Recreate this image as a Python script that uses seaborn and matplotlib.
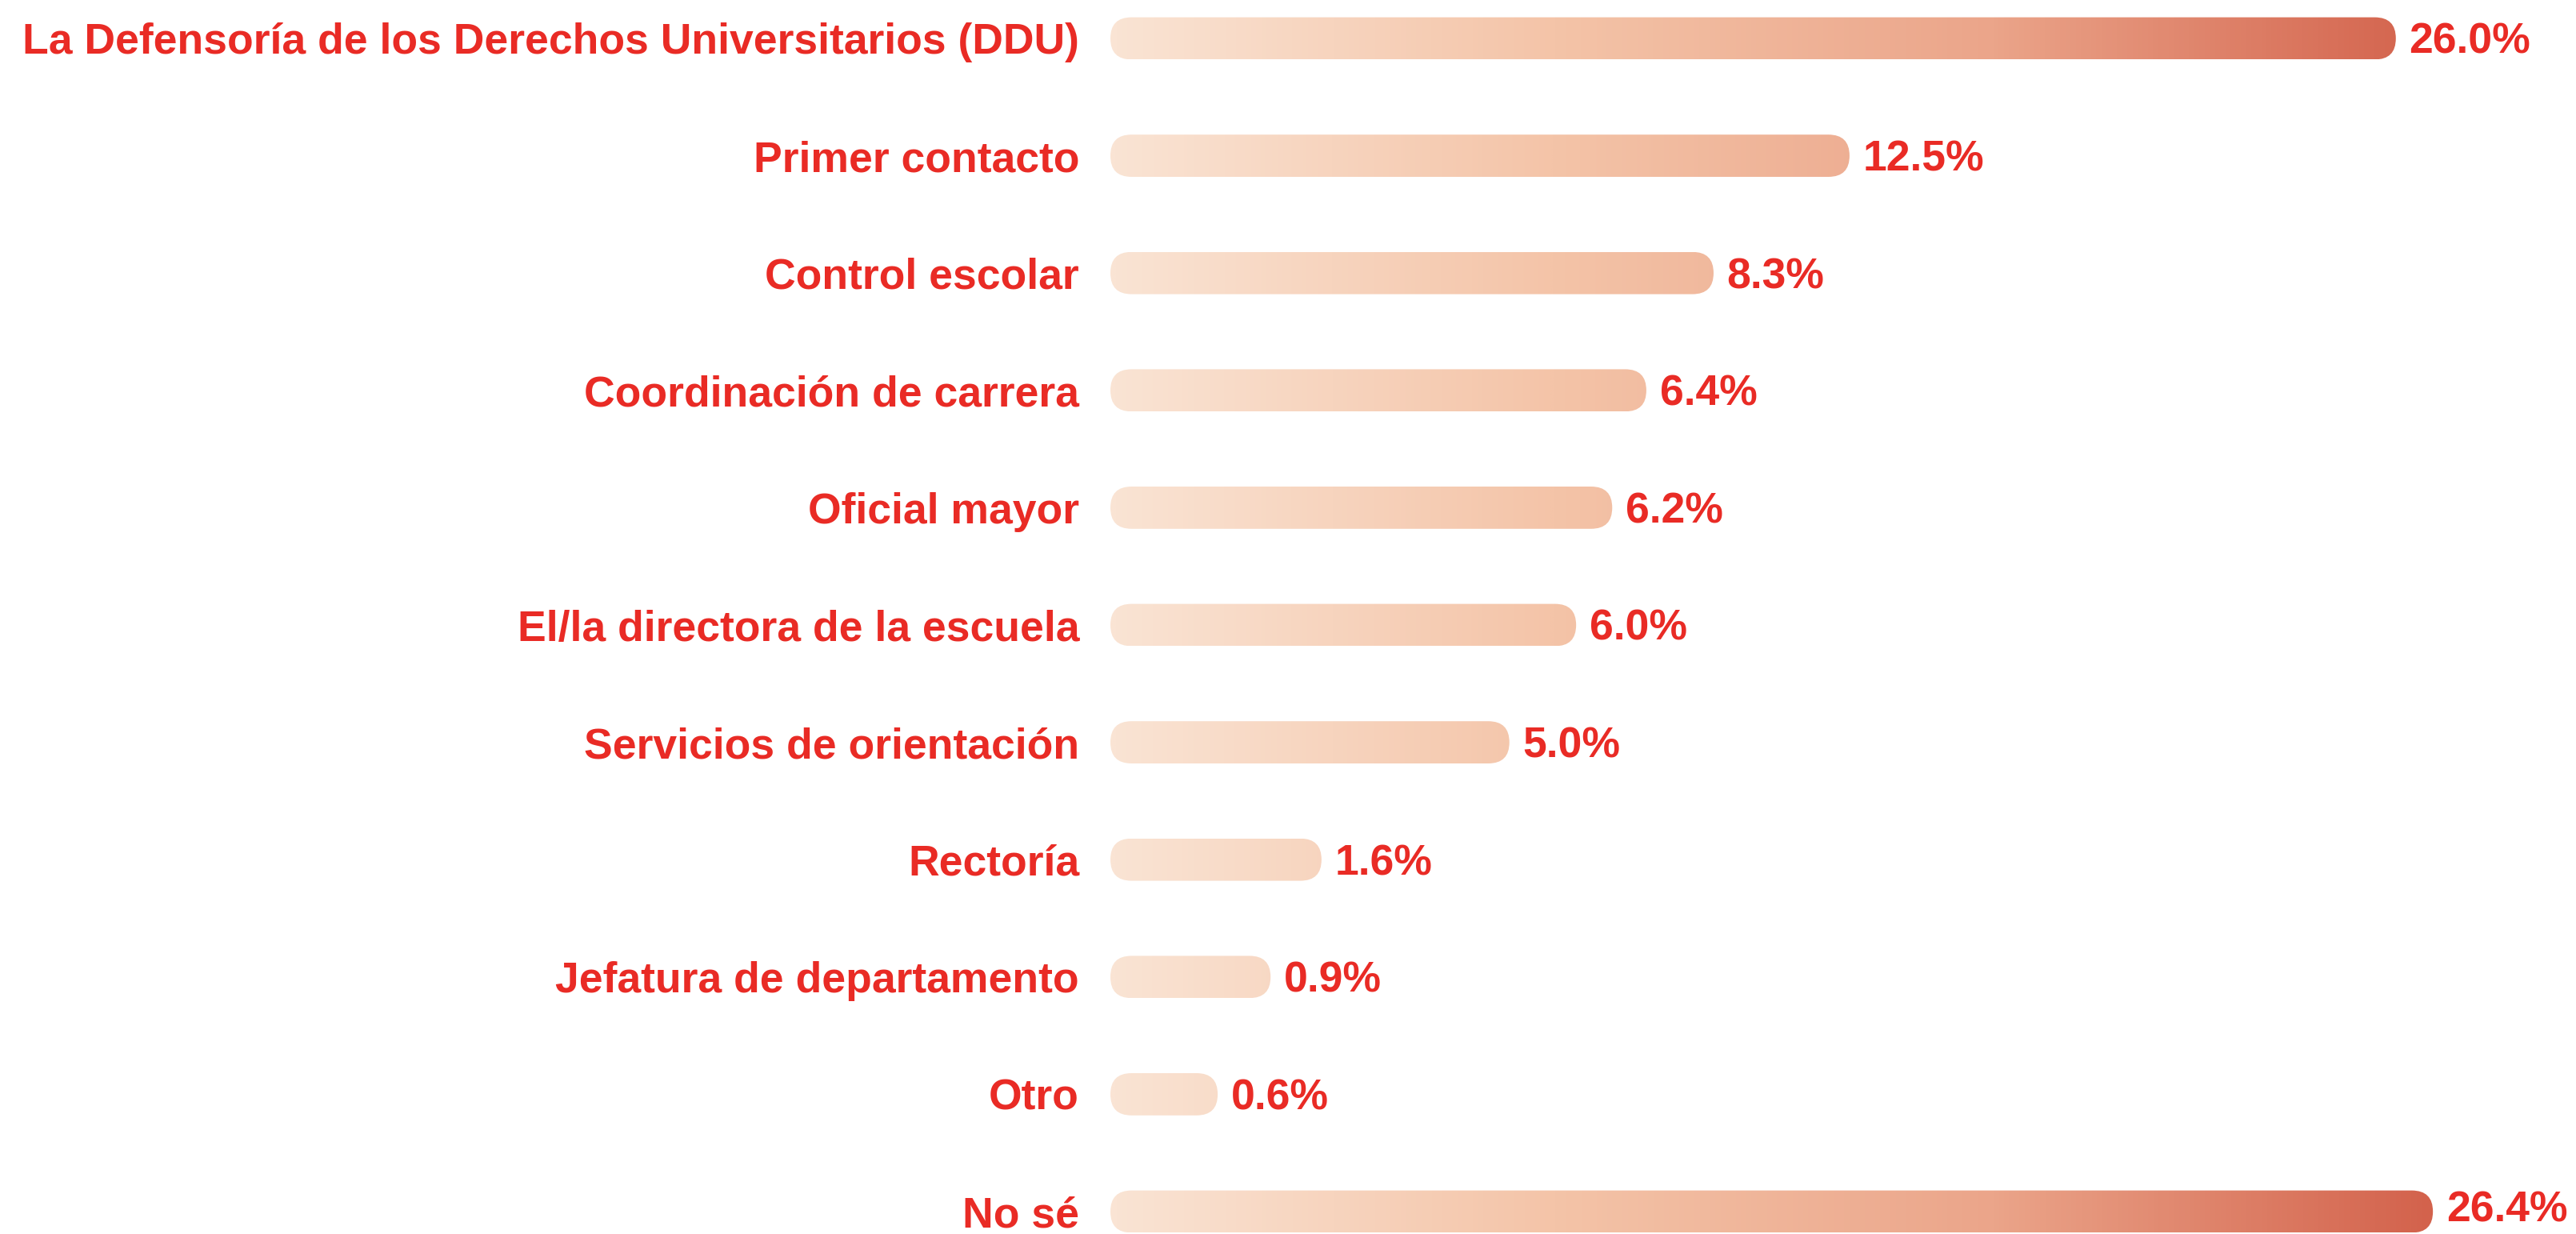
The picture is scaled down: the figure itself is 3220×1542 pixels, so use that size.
import numpy as np
import pandas as pd
import matplotlib
matplotlib.use("Agg")
import matplotlib.pyplot as plt
import seaborn as sns
from matplotlib.colors import LinearSegmentedColormap
from matplotlib.patches import FancyBboxPatch

# ---- data ----
categories = [
    "La Defensoría de los Derechos Universitarios (DDU)",
    "Primer contacto",
    "Control escolar",
    "Coordinación de carrera",
    "Oficial mayor",
    "El/la directora de la escuela",
    "Servicios de orientación",
    "Rectoría",
    "Jefatura de departamento",
    "Otro",
    "No sé",
]
values = [26.0, 12.5, 8.3, 6.4, 6.2, 6.0, 5.0, 1.6, 0.9, 0.6, 26.4]
# drawn bar lengths as they appear in the picture (the original is not strictly proportional)
bar_lengths = [26.0, 14.95, 12.2, 10.84, 10.15, 9.42, 8.07, 4.27, 3.24, 2.17, 26.75]
value_labels = [f"{v:.1f}%" for v in values]

TEXT_RED = "#E92B25"
grad_colors = ["#FAE4D4", "#F4C4A8", "#EBA58A", "#D3624C"]

sns.set_theme(style="white")
plt.rcParams["font.family"] = ["Liberation Sans", "DejaVu Sans"]

W, H, DPI = 3220, 1542, 100
fig = plt.figure(figsize=(W / DPI, H / DPI), dpi=DPI)
left_px = 1388
ax = fig.add_axes([left_px / W, 0.0, 1 - left_px / W, 1.0])

df = pd.DataFrame({"cat": categories, "len": bar_lengths})
bar_h = 0.36
sns.barplot(data=df, y="cat", x="len", orient="h", ax=ax, width=bar_h,
            color="#F0B090", saturation=1)

px_per_x = 61.8
xmax = (W - left_px) / px_per_x
row_px = 146.6
top_px = 48
ax.set_xlim(0, xmax)
ylim = (-top_px / row_px, (H - top_px) / row_px)
ax.set_ylim(ylim[1], ylim[0])

cmap = LinearSegmentedColormap.from_list("g", grad_colors)
gmax = max(bar_lengths)

fig.canvas.draw()
# data aspect for round caps
x_px = ax.transData.transform((1, 0))[0] - ax.transData.transform((0, 0))[0]
y_px = abs(ax.transData.transform((0, 1))[1] - ax.transData.transform((0, 0))[1])
aspect = x_px / y_px

for p in list(ax.patches):
    x0, y0 = p.get_x(), p.get_y()
    w, h = p.get_width(), p.get_height()
    p.set_visible(False)
    r = (h / 2) / aspect
    box = FancyBboxPatch((x0, y0), w, h,
                         boxstyle=f"round,pad=0,rounding_size={r}",
                         mutation_aspect=aspect,
                         facecolor="none", edgecolor="none",
                         transform=ax.transData)
    ax.add_patch(box)
    xs = np.linspace(x0, x0 + w, 400) / gmax
    img = ax.imshow(xs[np.newaxis, :], extent=[x0, x0 + w, y0 + h, y0],
                    aspect="auto", cmap=cmap, vmin=0, vmax=1,
                    interpolation="bilinear", zorder=2)
    img.set_clip_path(box)

ax.set_xlim(0, xmax)
ax.set_ylim(ylim[1], ylim[0])

for i, (L, lab) in enumerate(zip(bar_lengths, value_labels)):
    dy = 1 if i == len(bar_lengths) - 1 else -3.5
    ax.annotate(lab, xy=(L, i), xytext=(12, dy), textcoords="offset points",
                ha="left", va="center", fontsize=38.5, fontweight="bold",
                color=TEXT_RED, annotation_clip=False)

ax.set_yticks(range(len(categories)))
ax.set_yticklabels(categories, fontsize=38.5, fontweight="bold", color=TEXT_RED)
ax.tick_params(axis="y", length=0, pad=28)
ax.set_xticks([])
ax.set_xlabel("")
ax.set_ylabel("")
for s in ax.spines.values():
    s.set_visible(False)
ax.set_facecolor("white")

fig.savefig("out.png", dpi=DPI, facecolor="white")
